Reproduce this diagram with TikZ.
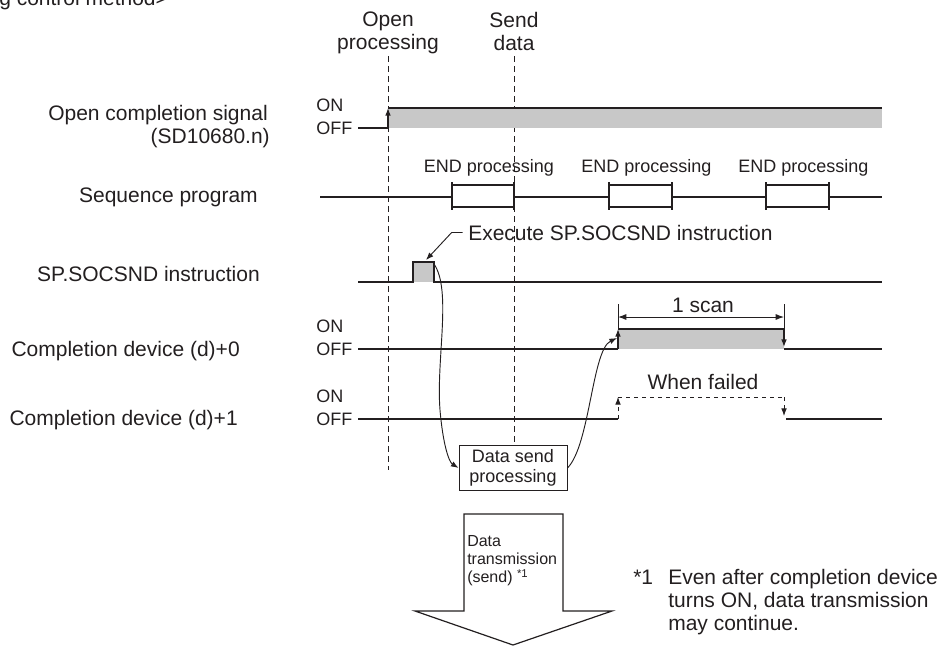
\documentclass[tikz,border=0pt]{standalone}
\usepackage{fontspec}
\setmainfont{Liberation Sans}
\usetikzlibrary{arrows.meta}
\definecolor{tinte}{HTML}{231F20}
\definecolor{fuell}{HTML}{C8C8C8}
\tikzset{
  sig/.style={tinte,line width=0.9pt},
  hilf/.style={tinte,dash pattern=on 4.5pt off 3pt,line width=0.7pt},
  pfeil/.style={-{Latex[length=2mm,width=1.5mm]},tinte,line width=0.7pt},
  mass/.style={{Latex[length=2.2mm,width=1.6mm]}-{Latex[length=2.2mm,width=1.6mm]},tinte,line width=0.7pt},
  txt/.style={text=tinte,inner sep=0pt,font=\fontsize{15.75}{17.25}\selectfont},
  txtk/.style={text=tinte,inner sep=0pt,font=\fontsize{13.5}{15}\selectfont},
  txtm/.style={text=tinte,inner sep=0pt,font=\fontsize{12}{13.5}\selectfont},
  kasten/.style={draw=tinte,fill=white,line width=0.75pt,inner sep=0pt},
}

\begin{document}
\begin{tikzpicture}[x=0.75pt,y=-0.75pt]
  \useasboundingbox (0,0) rectangle (944,646);
  \clip (0,0) rectangle (944,646);
  \node[txt,anchor=base west] (titel) at (-1,5) {g control method>};

  % Zeitpunkte oben
  \node[txt,align=center,anchor=north] (opn) at (388,12) {Open\\processing};
  \node[txt,align=center,anchor=north] (snd) at (514,12) {Send\\data};
  \node[txtk,kasten,align=center,minimum width=81pt,minimum height=34pt] (dsend) at (513,468) {Data send\\processing};
  \draw[hilf] (388,56) -- (388,470);
  \draw[hilf] (514,56) -- (dsend.north -| 514,0);

  % Signalnamen links
  \node[txt,anchor=base east] (ocs) at (268,120) {Open completion signal};
  \node[txt,anchor=base east] (sdn) at (270,143) {(SD10680.n)};
  \node[txt,anchor=base east] (seq) at (258,202) {Sequence program};
  \node[txt,anchor=base east] (spi) at (260,281) {SP.SOCSND instruction};
  \node[txt,anchor=base east] (cd0) at (240,356) {Completion device (d)+0};
  \node[txt,anchor=base east] (cd1) at (238,425) {Completion device (d)+1};
  \foreach \n/\y in {a/128,b/349,c/419}{
    \node[txtk,anchor=west] (on\n) at (316,\y-23) {ON};
    \node[txtk,anchor=west] (off\n) at (316,\y) {OFF};
  }

  % Open completion signal
  \fill[fuell] (388,108) rectangle (882,128);
  \draw[sig] (358,128) -- (388,128);
  \draw[pfeil,line width=0.9pt] (388,128) -- (388,108);
  \draw[sig] (388,108) -- (882,108);

  % Sequence program
  \draw[sig] (320,197) -- (452,197) (514,197) -- (609,197)
             (672,197) -- (766,197) (829,197) -- (882,197);
  \foreach \a/\b [count=\i] in {452/514,609/672,766/829}{
    \draw[sig] (\a,185) -- (\b,185) (\a,207) -- (\b,207)
               (\a,182) -- (\a,210) (\b,182) -- (\b,210);
    \node[txtk,anchor=base] (endp\i) at ({(\a+\b)/2+6},172) {END processing};
  }

  % SP.SOCSND
  \fill[fuell] (413,262) rectangle (434,282);
  \draw[sig] (358,282) -- (413,282) -- (413,262) -- (434,262) -- (434,282) -- (882,282);
  \node[txt,anchor=base west] (exe) at (468,240) {Execute SP.SOCSND instruction};
  \coordinate (pulstop) at (426,260);
  \draw[pfeil] ([xshift=-4pt]exe.west) -- ++(-11,0) -- (pulstop);

  % Completion device (d)+0
  \fill[fuell] (618,329) rectangle (784,349);
  \draw[sig] (358,349) -- (618,349);
  \draw[pfeil,line width=0.9pt] (618,349) -- (618,329);
  \draw[sig] (618,329) -- (784,329);
  \draw[pfeil,line width=0.9pt] (784,329) -- (784,347);
  \draw[sig] (784,349) -- (882,349);
  \draw[sig,line width=0.7pt] (618,304) -- (618,329) (784,304) -- (784,329);
  \draw[mass] (618,317) -- (784,317);
  \node[txt,anchor=base] (scan) at (703,312) {1 scan};

  % Completion device (d)+1
  \draw[sig] (358,419) -- (618,419);
  \draw[pfeil,dashed] (618,419) -- (618,397);
  \draw[tinte,dashed,line width=0.7pt] (618,397) -- (784,397);
  \draw[pfeil,dashed] (784,397) -- (784,416);
  \draw[sig] (786,419) -- (882,419);
  \node[txt,anchor=base] (fail) at (703,389) {When failed};

  % Verbindungen
  \coordinate (pulsab) at (434,264);
  \coordinate (flanke) at (617,338);
  \draw[pfeil] (pulsab) .. controls (452,290) and (436,360) .. (440,410)
               .. controls (443,445) and (449,462) .. (dsend.west);
  \draw[pfeil] (dsend.east) .. controls (590,445) and (592,350) .. (flanke);

  % Datenuebertragung
  \draw[tinte,fill=white,line width=0.9pt] (464,514) -- (563,514) -- (563,611) -- (612,611)
    -- (513,645) -- (415,611) -- (464,611) -- cycle;
  \node[txtm,align=left,anchor=north west] (dtx) at (467,535)
    {Data\\transmission\\(send) \raisebox{0.6ex}{\fontsize{8.5}{8.5}\selectfont *1}};

  % Fussnote
  \node[txt,anchor=base west] (fnm) at (633,584) {*1};
  \node[txt,align=left,anchor=north west] (fnt) at (668,569)
    {Even after completion device\\turns ON, data transmission\\may continue.};
\end{tikzpicture}
\end{document}
